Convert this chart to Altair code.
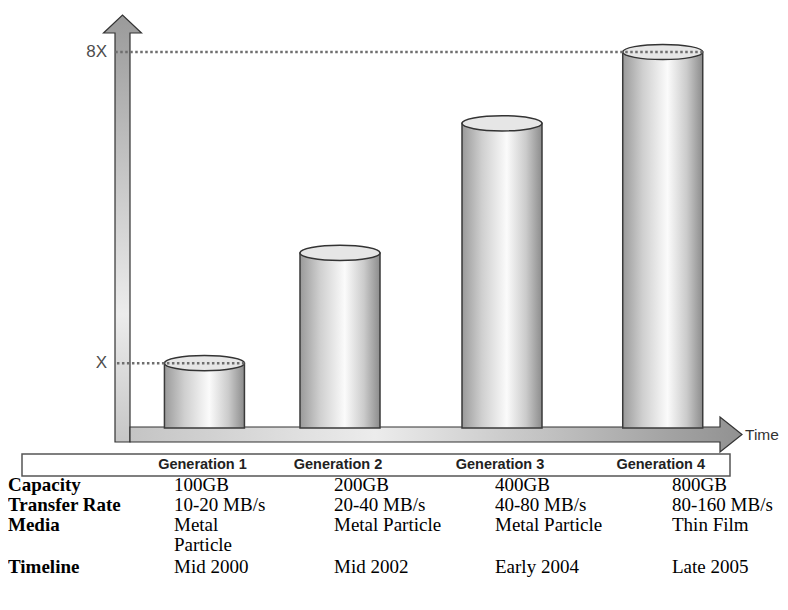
import altair as alt
import pandas as pd

# ---------------- data ----------------
generations = ["Generation 1", "Generation 2", "Generation 3", "Generation 4"]
gen_index = [1, 2, 3, 4]
relative_height = [1.0, 2.7, 4.7, 5.8]      # cylinder heights, Generation 1 = 1
tick_labels = ["X", "8X"]
tick_gen = [1, 4]
row_labels = ["Capacity", "Transfer Rate", "Media", "Timeline"]
capacity = ["100GB", "200GB", "400GB", "800GB"]
transfer_rate = ["10-20 MB/s", "20-40 MB/s", "40-80 MB/s", "80-160 MB/s"]
media_lines = [["Metal", "Particle"], ["Metal Particle"], ["Metal Particle"], ["Thin Film"]]
timeline = ["Mid 2000", "Mid 2002", "Early 2004", "Late 2005"]
x_axis_title = "Time"

# ---------------- layout (pixels in the plot area) ----------------
W, H = 772, 588
BAR_X_RANGE = [192, 332, 494, 660]
Y_RANGE = [420, 44]
TABLE_X_RANGE = [166, 326, 487, 664]
TABLE_ROW_RANGE = [477, 497, 517, 537, 559]

bars = pd.DataFrame({"gen": gen_index, "name": generations, "rel": relative_height})
ticks = pd.DataFrame({
    "gen": tick_gen,
    "label": tick_labels,
    "rel": [relative_height[g - 1] for g in tick_gen],
})

rows = []
for i, g in enumerate(gen_index):
    rows.append({"gen": g, "row": 0, "text": capacity[i]})
    rows.append({"gen": g, "row": 1, "text": transfer_rate[i]})
    for k, line in enumerate(media_lines[i]):
        rows.append({"gen": g, "row": 2 + k, "text": line})
    rows.append({"gen": g, "row": 4, "text": timeline[i]})
table = pd.DataFrame(rows)
labels = pd.DataFrame({"label": row_labels, "row": [0, 1, 2, 4]})
one = pd.DataFrame({"k": [0]})

xs = alt.Scale(domain=gen_index, range=BAR_X_RANGE, nice=False, zero=False)
ys = alt.Scale(domain=[0, max(relative_height)], range=Y_RANGE, nice=False, zero=False)

def lin(stops, horizontal=True):
    return alt.Gradient(
        gradient="linear",
        stops=[alt.GradientStop(color=c, offset=o) for o, c in stops],
        x1=0, y1=0, x2=1 if horizontal else 0, y2=0 if horizontal else 1,
    )

v_arrow_path = "M107,434L107,25L95.5,25L114.5,7L133.5,25L122,25L122,434Z"
h_arrow_path = "M122,419L712,419L712,409L734,426.5L712,444L712,434L122,434Z"
ellipse_path = "M-1,0A1,0.19,0,1,1,1,0A1,0.19,0,1,1,-1,0Z"

v_arrow = alt.Chart(one).mark_point(
    shape=v_arrow_path, size=4, filled=True, opacity=1,
    fill=lin([(0, "#9a9a9a"), (0.7, "#ececec"), (1, "#c6c6c6")], horizontal=False),
    stroke="#333333", strokeWidth=1.2,
).encode(x=alt.value(0), y=alt.value(0))

h_arrow = alt.Chart(one).mark_point(
    shape=h_arrow_path, size=4, filled=True, opacity=1,
    fill=lin([(0, "#c4c4c4"), (0.4, "#ececec"), (1, "#919191")]),
    stroke="#333333", strokeWidth=1.2,
).encode(x=alt.value(0), y=alt.value(0))

cyl = alt.Chart(bars).mark_bar(
    size=80,
    fill=lin([(0, "#9a9a9a"), (0.25, "#cfcfcf"), (0.56, "#fbfbfb"), (0.8, "#cbcbcb"), (1, "#8c8c8c")]),
    stroke="#3a3a3a", strokeWidth=1.5,
).encode(x=alt.X("gen:Q", scale=xs, axis=None), y=alt.Y("rel:Q", scale=ys, axis=None))

tops = alt.Chart(bars).mark_point(
    shape=ellipse_path, size=6400, filled=True, opacity=1,
    fill="#e6e6e6", stroke="#333333", strokeWidth=1.5,
).encode(x=alt.X("gen:Q", scale=xs, axis=None), y=alt.Y("rel:Q", scale=ys, axis=None))

dots = alt.Chart(ticks).mark_rule(
    xOffset=40, strokeDash=[2.5, 2.5], strokeWidth=2.5, color="#6e6e6e",
).encode(x=alt.X("gen:Q", scale=xs, axis=None), x2=alt.value(107),
         y=alt.Y("rel:Q", scale=ys, axis=None))

tick_text = alt.Chart(ticks).mark_text(
    align="right", baseline="middle", font="Liberation Sans", fontSize=17, color="#4d4d4d",
).encode(x=alt.value(99), y=alt.Y("rel:Q", scale=ys, axis=None), text="label:N")

time_text = alt.Chart(one).mark_text(
    align="left", baseline="middle", font="Liberation Sans", fontSize=15.5, color="#333333",
    text=x_axis_title,
).encode(x=alt.value(737), y=alt.value(427))

box = alt.Chart(one).mark_rect(
    fill="white", stroke="#555555", strokeWidth=1.5,
).encode(x=alt.value(14), x2=alt.value(722), y=alt.value(446), y2=alt.value(468))

gen_text = alt.Chart(bars).mark_text(
    align="center", baseline="middle", dx=-2, font="Liberation Sans", fontWeight="bold",
    fontSize=14.5, color="#222222",
).encode(x=alt.X("gen:Q", scale=xs, axis=None), y=alt.value(457), text="name:N")

graphic = alt.layer(v_arrow, h_arrow, cyl, tops, dots, tick_text, time_text, box, gen_text)

txs = alt.Scale(domain=gen_index, range=TABLE_X_RANGE, nice=False, zero=False)
tys = alt.Scale(domain=[0, 1, 2, 3, 4], range=TABLE_ROW_RANGE, nice=False, zero=False)

row_text = alt.Chart(labels).mark_text(
    align="left", baseline="middle", font="Liberation Serif", fontWeight="bold",
    fontSize=19, color="black",
).encode(x=alt.value(0), y=alt.Y("row:Q", scale=tys, axis=None), text="label:N")

cell_text = alt.Chart(table).mark_text(
    align="left", baseline="middle", font="Liberation Serif", fontSize=19, color="black",
).encode(x=alt.X("gen:Q", scale=txs, axis=None), y=alt.Y("row:Q", scale=tys, axis=None),
         text="text:N")

table_layer = alt.layer(row_text, cell_text)

chart = alt.layer(graphic, table_layer).resolve_scale(
    x="independent", y="independent"
).properties(
    width=W, height=H, padding=0, autosize=alt.AutoSizeParams(type="none"),
    background="white",
).configure_view(stroke=None)

chart.save("out.html", embed_options={"renderer": "svg", "actions": False})
